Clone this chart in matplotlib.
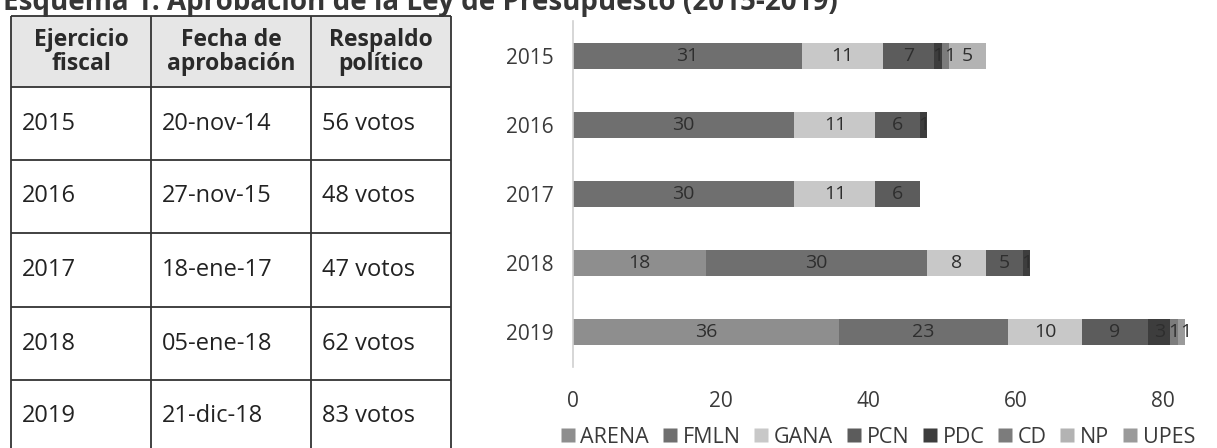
import matplotlib
matplotlib.use("Agg")
import matplotlib.pyplot as plt
from matplotlib.patches import Rectangle
from matplotlib.lines import Line2D
import numpy as np

plt.rcParams["font.family"] = ["Open Sans", "DejaVu Sans"]

# table data
title = "Esquema 1. Aprobación de la Ley de Presupuesto (2015-2019)"
headers = ["Ejercicio\nfiscal", "Fecha de\naprobación", "Respaldo\npolítico"]
years = ["2015", "2016", "2017", "2018", "2019"]
fechas = ["20-nov-14", "27-nov-15", "18-ene-17", "05-ene-18", "21-dic-18"]
votos = ["56 votos", "48 votos", "47 votos", "62 votos", "83 votos"]

# votes per party (stacked bars)
parties = ["ARENA", "FMLN", "GANA", "PCN", "PDC", "CD", "NP", "UPES"]
arena = [0, 0, 0, 18, 36]
fmln = [31, 30, 30, 30, 23]
gana = [11, 11, 11, 8, 10]
pcn = [7, 6, 6, 5, 9]
pdc = [1, 1, 0, 1, 3]
cd = [1, 0, 0, 0, 1]
np_votes = [5, 0, 0, 0, 0]
upes = [0, 0, 0, 0, 1]
series = [arena, fmln, gana, pcn, pdc, cd, np_votes, upes]
colors = ["#8e8e8e", "#6f6f6f", "#c8c8c8", "#5c5c5c", "#3d3d3d",
          "#7c7c7c", "#b3b3b3", "#9a9a9a"]

W, H = 1217, 448
fig = plt.figure(figsize=(W / 100, H / 100), dpi=100)

# overlay in pixel coords for the table and title
ov = fig.add_axes([0, 0, 1, 1])
ov.set_xlim(0, W)
ov.set_ylim(H, 0)
ov.axis("off")

ov.text(3, 10, title, fontsize=20, fontweight="bold", color="#363636",
        va="baseline", ha="left")

col_x = [11, 151, 311, 451]
row_y = [16, 87, 160, 233, 307, 380, 453]
ov.add_patch(Rectangle((col_x[0], row_y[0]), col_x[-1] - col_x[0],
                       row_y[1] - row_y[0], facecolor="#e6e6e6",
                       edgecolor="none", zorder=0))
for x in col_x:
    ov.plot([x, x], [row_y[0], row_y[-1]], color="#333333", lw=1.3,
            solid_capstyle="butt")
for y in row_y:
    ov.plot([col_x[0], col_x[-1]], [y, y], color="#333333", lw=1.3,
            solid_capstyle="butt")

for j, h in enumerate(headers):
    ov.text((col_x[j] + col_x[j + 1]) / 2, (row_y[0] + row_y[1]) / 2 + 1, h,
            fontsize=16.5, fontweight="bold", color="#2a2a2a",
            ha="center", va="center", linespacing=1.0)

for i in range(len(years)):
    yc = (row_y[i + 1] + row_y[i + 2]) / 2
    for j, val in enumerate([years[i], fechas[i], votos[i]]):
        ov.text(col_x[j] + 11, yc, val, fontsize=17, color="#222222",
                ha="left", va="center")

# stacked bar chart
x0, x1 = 573, W
y_top, y_bot = 21, 367
ax = fig.add_axes([x0 / W, 1 - y_bot / H, (x1 - x0) / W, (y_bot - y_top) / H])
ypos = np.arange(len(years))
left = np.zeros(len(years))
last_lbl = np.full(len(years), -10.0)
for name, vals, c in zip(parties, series, colors):
    vals = np.array(vals)
    ax.barh(ypos, vals, left=left, height=0.375, color=c, label=name,
            edgecolor="none")
    for k, v in enumerate(vals):
        if v > 0:
            xl = max(left[k] + v / 2, last_lbl[k] + 1.6)
            last_lbl[k] = xl
            ax.text(xl, ypos[k], str(v), ha="center",
                    va="center", fontsize=14, color="#2e2e2e")
    left += vals

ax.set_xlim(0, (x1 - x0) / 7.375)
ax.set_ylim(len(years) - 0.5, -0.5)
ax.set_yticks(ypos)
ax.set_yticklabels(years)
ax.set_xticks([0, 20, 40, 60, 80])
ax.tick_params(axis="y", length=0, pad=14, labelsize=15, labelcolor="#3a3a3a")
ax.tick_params(axis="x", length=0, pad=17, labelsize=15, labelcolor="#3a3a3a")
for s in ["top", "right", "bottom"]:
    ax.spines[s].set_visible(False)
ax.spines["left"].set_color("#d0d0d0")
ax.spines["left"].set_linewidth(1.2)

handles = [Line2D([0], [0], marker="s", color="none", markerfacecolor=c,
                  markeredgecolor="none", markersize=10, label=p)
           for p, c in zip(parties, colors)]
fig.legend(handles=handles, loc="center left",
           bbox_to_anchor=(560 / W, 1 - 437 / H), ncol=8, frameon=False,
           fontsize=15.5, handlelength=0.7, handletextpad=0.25,
           columnspacing=0.6, labelcolor="#3a3a3a", borderaxespad=0,
           borderpad=0)

fig.savefig("out.png", dpi=100)
